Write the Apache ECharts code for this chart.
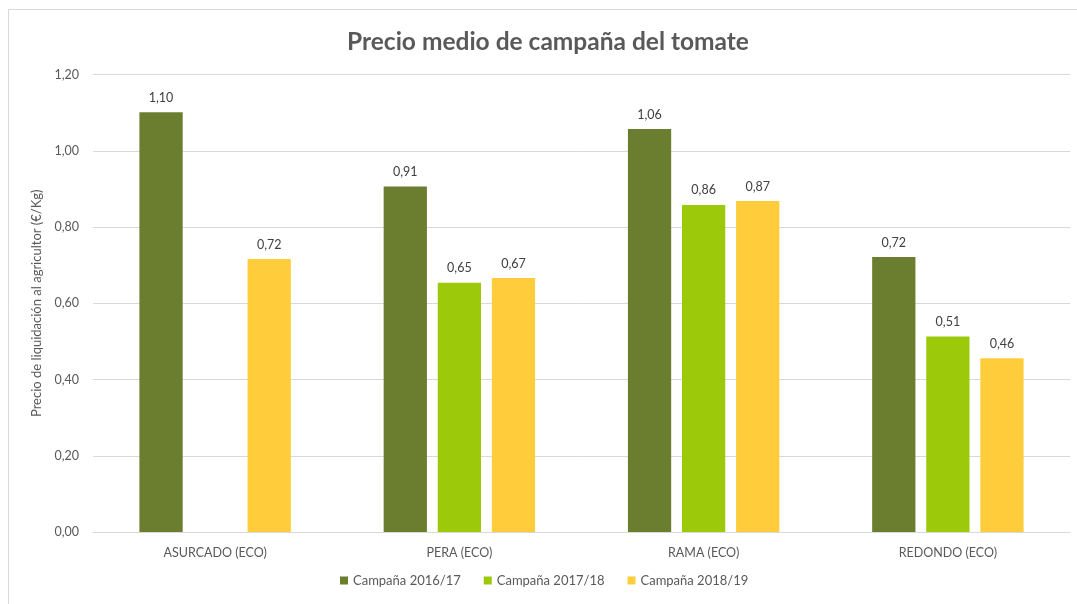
<!DOCTYPE html>
<html>
<head>
<meta charset="utf-8">
<script src="https://cdn.jsdelivr.net/npm/echarts@6/dist/echarts.min.js"></script>
<style>html,body{margin:0;padding:0;background:#fff}#c{width:1077px;height:604px}</style>
</head>
<body>
<div id="c"></div>
<script>
const categories = ['ASURCADO (ECO)', 'PERA (ECO)', 'RAMA (ECO)', 'REDONDO (ECO)'];
const seriesNames = ['Campaña 2016/17', 'Campaña 2017/18', 'Campaña 2018/19'];
const s2016 = [1.101, 0.906, 1.057, 0.721];
const s2017 = [null, 0.654, 0.858, 0.513];
const s2018 = [0.716, 0.666, 0.868, 0.456];
const yTicks = [0, 0.2, 0.4, 0.6, 0.8, 1.0, 1.2];
const colors = ['#6B7D2F', '#9CC90A', '#FFCD3B'];

const fmt = v => v.toFixed(2).replace('.', ',');
const font = 'Lato, "Open Sans", sans-serif';
const chart = echarts.init(document.getElementById('c'));
const mk = (name, data, color) => ({
  name, type: 'bar', data,
  itemStyle: { color },
  barGap: '25%', barCategoryGap: '38%',
  label: { show: true, position: 'top', distance: 8, color: '#404040', fontSize: 12.5, fontFamily: font,
    formatter: p => fmt(p.value) }
});
chart.setOption({
  animation: false,
  backgroundColor: '#fff',
  graphic: [{ type: 'rect', shape: { x: 8.5, y: 9.5, width: 1080, height: 610 },
    style: { fill: 'none', stroke: '#D9D9D9', lineWidth: 1 }, silent: true }],
  title: { text: 'Precio medio de campaña del tomate', left: 342, top: 25,
    textStyle: { color: '#595959', fontSize: 24.5, fontWeight: 'bold', fontFamily: font } },
  legend: { data: seriesNames, bottom: 17, left: 340, padding: 0, icon: 'rect', itemWidth: 8, itemHeight: 8,
    itemGap: 23, itemTextGap: 9,
    textStyle: { color: '#595959', fontSize: 13, fontFamily: font } },
  grid: { left: 93, right: 7, top: 74.5, bottom: 72, containLabel: false },
  xAxis: { type: 'category', data: categories,
    axisLine: { lineStyle: { color: '#D9D9D9' } }, axisTick: { show: false },
    axisLabel: { color: '#595959', fontSize: 12.5, fontFamily: font, margin: 14 } },
  yAxis: { type: 'value', min: yTicks[0], max: yTicks[yTicks.length - 1], interval: 0.2,
    name: 'Precio de liquidación al agricultor (€/Kg)', nameLocation: 'middle', nameGap: 46,
    nameTextStyle: { color: '#595959', fontSize: 13, fontFamily: font },
    axisLine: { show: false }, axisTick: { show: false },
    splitLine: { lineStyle: { color: '#D9D9D9' } },
    axisLabel: { color: '#595959', fontSize: 12.5, fontFamily: font, margin: 14, formatter: v => fmt(v) } },
  series: [mk(seriesNames[0], s2016, colors[0]), mk(seriesNames[1], s2017, colors[1]), mk(seriesNames[2], s2018, colors[2])]
});
</script>
</body>
</html>
